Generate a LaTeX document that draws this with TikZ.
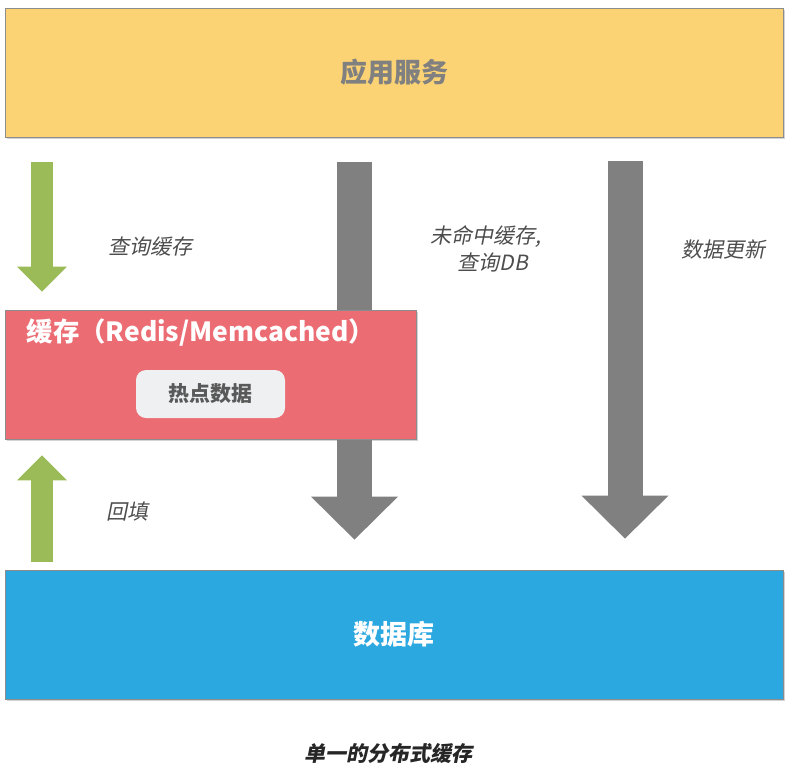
\documentclass[tikz,border=0pt]{standalone}
\usepackage{fontspec}
\setmainfont{Noto Sans CJK SC}
\newfontfamily\slantfont[FakeSlant=0.2]{Noto Sans CJK SC}
\usetikzlibrary{arrows.meta, positioning, shadows}

\definecolor{appyellow}{HTML}{FCD374}
\definecolor{cachered}{HTML}{EB6C72}
\definecolor{dbblue}{HTML}{2CA8E0}
\definecolor{hotgray}{HTML}{EEF0F2}
\definecolor{flowgreen}{HTML}{9BBB59}
\definecolor{flowgray}{HTML}{808080}
\definecolor{labelgray}{HTML}{4D4D4D}

\begin{document}
\begin{tikzpicture}[
    x=0.5pt, y=-0.5pt,
    layer/.style={rectangle, draw=black!45, line width=0.4pt, minimum width=389pt, minimum height=64.5pt, inner sep=0pt,
        drop shadow={shadow xshift=0.8pt, shadow yshift=-0.8pt, opacity=0.35}},
    bigarrow/.style={draw=flowgray, line width=17.5pt, -{Triangle[length=21.5pt, width=43.5pt, line width=0pt]}},
    smallarrow/.style={draw=flowgreen, line width=11pt, -{Triangle[length=12.5pt, width=25pt, line width=0pt]}},
    note/.style={font=\slantfont\fontsize{10.5}{13.5}\selectfont, text=labelgray, align=center, inner sep=0pt}
]
\useasboundingbox (0,0) rectangle (787,767);

\node[layer, fill=appyellow, font=\bfseries\fontsize{13.5}{16}\selectfont, text=black!50] (app) at (394,72.5) {应用服务};
\node[layer, fill=dbblue, font=\bfseries\fontsize{13.5}{16}\selectfont, text=white] (db) at (394,634.5) {数据库};

% paths straight down to the database
\coordinate (miss) at (354.5,0);
\coordinate (update) at (625,0);
\draw[bigarrow, shorten <=12.5pt, shorten >=15pt] (app.south -| miss) -- (db.north -| miss);
\draw[bigarrow, shorten <=12pt, shorten >=15.5pt] (app.south -| update) -- (db.north -| update);

\node[layer, fill=cachered, minimum width=205.5pt] (cache) at (210.5,374.5) {};
\node[font=\bfseries\fontsize{13.2}{16}\selectfont, text=white, inner sep=0pt] (cachetitle) at (201,333) {缓存（Redis/Memcached）};
\node[rectangle, rounded corners=5pt, fill=hotgray, minimum width=74.5pt, minimum height=24pt, inner sep=0pt,
      font=\bfseries\fontsize{10.5}{12}\selectfont, text=black!65] (hot) at (210.5,394) {热点数据};

% query and refill
\coordinate (side) at (42,0);
\draw[smallarrow, shorten <=12.5pt, shorten >=9pt] (app.south -| side) -- (cache.north -| side);
\draw[smallarrow, shorten <=4pt, shorten >=8pt] (db.north -| side) -- (cache.south -| side);

\node[note] (query) at (150,247) {查询缓存};
\node[note] (missnote) at (486,249) {未命中缓存,\\ \hspace*{7pt}查询DB};
\node[note] (updatenote) at (723,249) {数据更新};
\node[note] (refill) at (127,512) {回填};

\node[font=\slantfont\bfseries\fontsize{10.5}{12}\selectfont, text=black!85, inner sep=0pt] (caption) at (388,753) {单一的分布式缓存};
\end{tikzpicture}
\end{document}
